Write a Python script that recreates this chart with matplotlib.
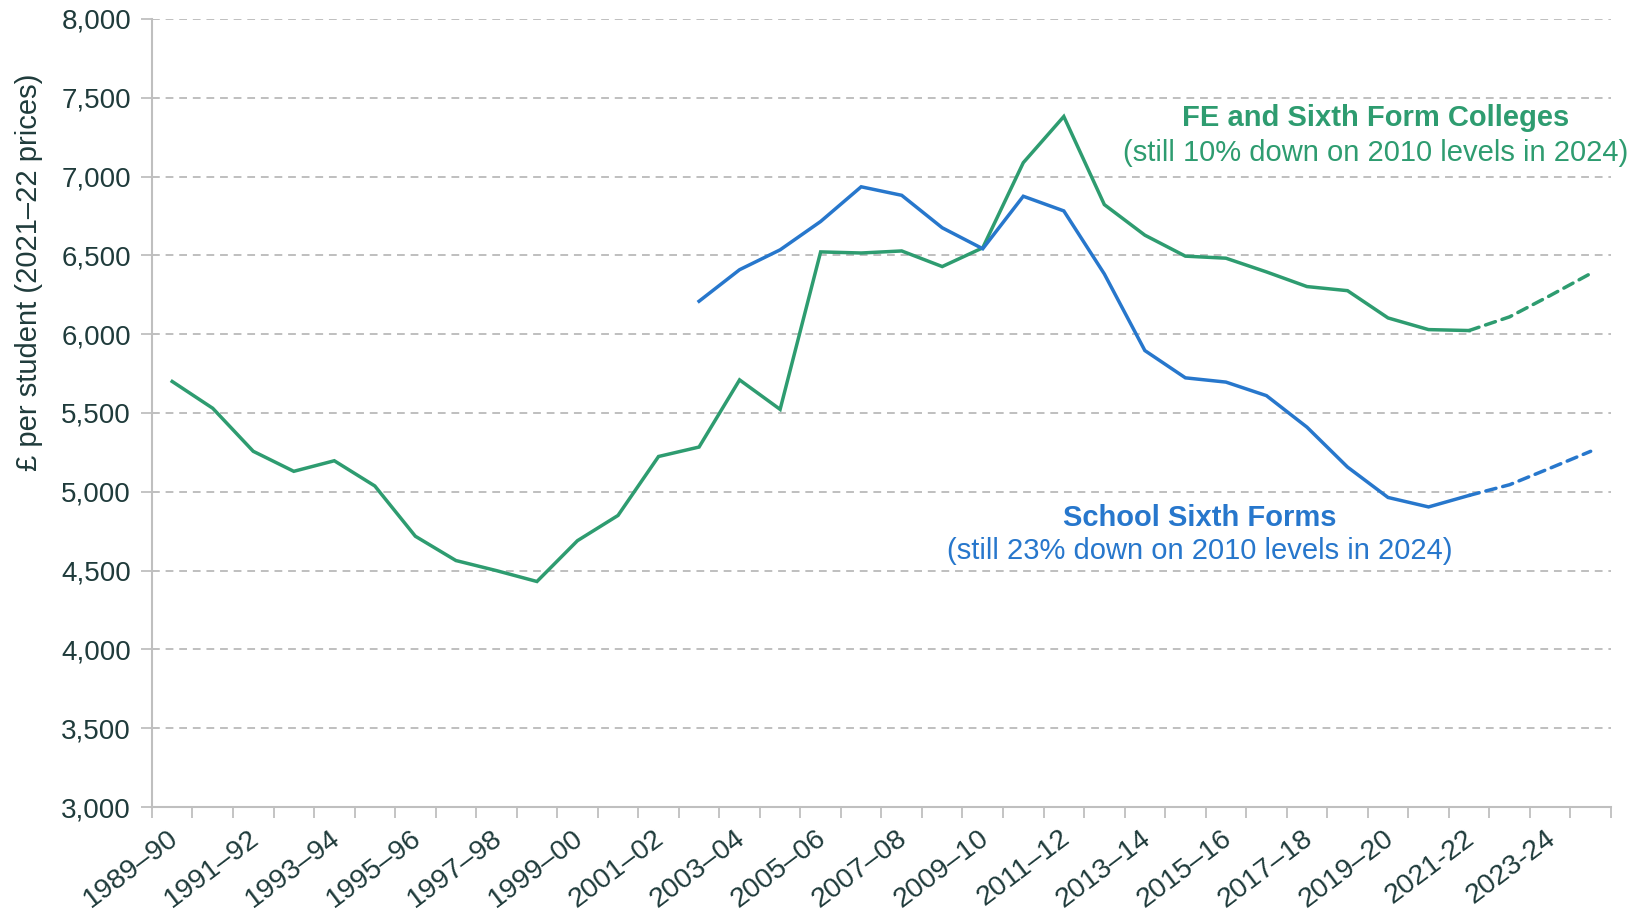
import matplotlib
matplotlib.use("Agg")
import matplotlib.pyplot as plt
from matplotlib.transforms import ScaledTranslation
import numpy as np

plt.rcParams['font.family'] = ['Liberation Sans', 'DejaVu Sans']

years = ["1989–90", "1990–91", "1991–92", "1992–93", "1993–94", "1994–95", "1995–96",
         "1996–97", "1997–98", "1998–99", "1999–00", "2000–01", "2001–02", "2002–03",
         "2003–04", "2004–05", "2005–06", "2006–07", "2007–08", "2008–09", "2009–10",
         "2010–11", "2011–12", "2012–13", "2013–14", "2014–15", "2015–16", "2016–17",
         "2017–18", "2018–19", "2019–20", "2020–21", "2021-22", "2022-23", "2023-24",
         "2024-25"]

fe_colleges = [5700, 5530, 5257, 5130, 5197, 5037, 4718, 4564, 4500, 4431, 4690, 4850,
               5224, 5284, 5710, 5523, 6522, 6515, 6528, 6429, 6548, 7088, 7381, 6822,
               6628, 6495, 6482, 6395, 6302, 6276, 6103, 6029, 6023, 6110, 6245, 6385]

school_sixth = [None] * 13 + [6209, 6409, 6535, 6715, 6935, 6881, 6675, 6542, 6875,
                              6782, 6382, 5896, 5723, 5696, 5610, 5410, 5157, 4964,
                              4904, 4977, 5045, 5150, 5257]

last_actual = 32  # index of 2021-22; later values are projections

green = "#2e9c70"
blue = "#2777cc"
text_dark = "#1f3b3b"
grid_col = "#bfbfbf"

fig = plt.figure(figsize=(16.46, 9.14), dpi=100)
ax = fig.add_axes([0.0923, 0.117, 0.8864, 0.8623])

x = np.arange(len(years))
fe = np.array(fe_colleges, dtype=float)
sc = np.array([np.nan if v is None else v for v in school_sixth], dtype=float)

lw = 2.5
ax.plot(x[:last_actual + 1], fe[:last_actual + 1], color=green, lw=lw, solid_joinstyle='miter')
ax.plot(x[last_actual:], fe[last_actual:], color=green, lw=lw, ls=(0, (3, 2)), dash_capstyle='round')
ax.plot(x[:last_actual + 1], sc[:last_actual + 1], color=blue, lw=lw, solid_joinstyle='miter')
ax.plot(x[last_actual:], sc[last_actual:], color=blue, lw=lw, ls=(0, (3, 2)), dash_capstyle='round')

ax.set_xlim(-0.5, len(years) - 0.5)
ax.set_ylim(3000, 8000)
ax.set_yticks(np.arange(3000, 8001, 500))
ax.set_yticklabels([f"{v:,}" for v in range(3000, 8001, 500)])
ax.yaxis.grid(True, color=grid_col, ls=(0, (4, 3)), lw=1.4)
ax.set_axisbelow(True)

# category ticks at boundaries, labels on every other category centre
ax.set_xticks(np.arange(-0.5, len(years), 1.0), minor=True)
ax.set_xticks(x[::2])
ax.set_xticklabels(years[::2], rotation=37, ha='right', rotation_mode='anchor')
ax.tick_params(axis='x', which='major', length=0, pad=13, labelsize=20.5, labelcolor=text_dark)
ax.tick_params(axis='x', which='minor', length=8, width=1.3, color=grid_col)
ax.tick_params(axis='y', which='major', length=8, width=1.3, color=grid_col, labelsize=20,
               labelcolor=text_dark, pad=7)
shift = ScaledTranslation(-5 / 100, 0, fig.dpi_scale_trans)
for lbl in ax.get_xticklabels():
    lbl.set_transform(lbl.get_transform() + shift)

for s in ['top', 'right']:
    ax.spines[s].set_visible(False)
for s in ['left', 'bottom']:
    ax.spines[s].set_color(grid_col)
    ax.spines[s].set_linewidth(1.5)

ax.set_ylabel("£ per student (2021–22 prices)", fontsize=21, color=text_dark, va='center')
ax.yaxis.set_label_coords(-0.084, 0.678)

ax.text(29.7, 7370, "FE and Sixth Form Colleges", color=green, fontsize=21,
        fontweight='bold', ha='center', va='center')
ax.text(29.7, 7150, "(still 10% down on 2010 levels in 2024)", color=green, fontsize=21,
        ha='center', va='center')
ax.text(25.35, 4835, "School Sixth Forms", color=blue, fontsize=21,
        fontweight='bold', ha='center', va='center')
ax.text(25.35, 4622, "(still 23% down on 2010 levels in 2024)", color=blue, fontsize=21,
        ha='center', va='center')

fig.savefig("out.png", dpi=100)
